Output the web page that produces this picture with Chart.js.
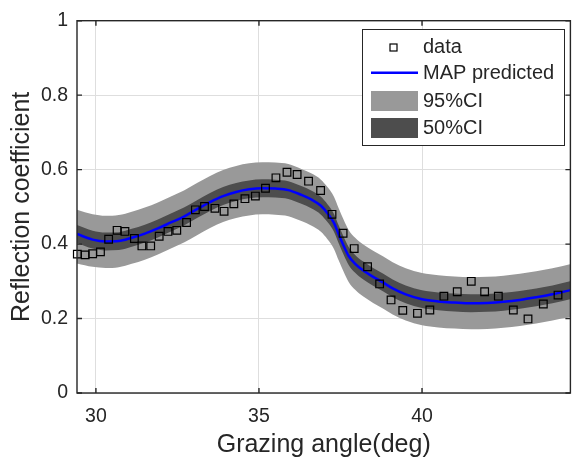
<!DOCTYPE html>
<html>
<head>
<meta charset="utf-8">
<script src="https://cdn.jsdelivr.net/npm/chart.js@4/dist/chart.umd.min.js"></script>
<style>
  html, body { margin: 0; padding: 0; background: #fff; }
  canvas { display: block; }
</style>
</head>
<body>
<canvas id="reflChart" width="577" height="466"></canvas>
<script>
// measured reflection coefficient
const dataAngle = [29.43, 29.67, 29.90, 30.14, 30.39, 30.65, 30.89, 31.18, 31.41, 31.68,
  31.94, 32.21, 32.48, 32.78, 33.05, 33.33, 33.65, 33.93, 34.23, 34.57,
  34.89, 35.20, 35.52, 35.86, 36.17, 36.52, 36.89, 37.24, 37.58, 37.92,
  38.33, 38.70, 39.05, 39.41, 39.86, 40.24, 40.67, 41.08, 41.51, 41.92,
  42.34, 42.80, 43.25, 43.72, 44.17];
const dataRefl = [0.373, 0.371, 0.374, 0.379, 0.413, 0.437, 0.434, 0.415, 0.395, 0.395,
  0.421, 0.434, 0.437, 0.458, 0.492, 0.501, 0.496, 0.488, 0.508, 0.522,
  0.529, 0.550, 0.578, 0.593, 0.587, 0.569, 0.544, 0.480, 0.429, 0.388,
  0.339, 0.293, 0.250, 0.222, 0.214, 0.223, 0.260, 0.272, 0.300, 0.272,
  0.260, 0.223, 0.199, 0.239, 0.263];

// model curve and credible intervals
const curveAngle = [29.42, 29.9, 30.3, 30.7, 31.1, 31.5, 31.9, 32.3, 32.7, 33.1,
  33.5, 33.9, 34.3, 34.7, 35.1, 35.5, 35.9, 36.3, 36.6, 36.9,
  37.1, 37.3, 37.45, 37.6, 37.75, 37.95, 38.2, 38.5, 38.8, 39.1,
  39.5, 40.0, 40.5, 41.0, 41.5, 42.0, 42.5, 43.0, 43.5, 44.0, 44.58];
const mapPred = [0.427, 0.412, 0.407, 0.408, 0.417, 0.428, 0.442, 0.458, 0.474, 0.494,
  0.513, 0.529, 0.540, 0.547, 0.550, 0.549, 0.545, 0.532, 0.520, 0.503,
  0.483, 0.457, 0.425, 0.395, 0.368, 0.347, 0.329, 0.312, 0.297, 0.281,
  0.265, 0.252, 0.246, 0.243, 0.241, 0.242, 0.245, 0.250, 0.257, 0.265, 0.277];
const upper95 = [0.492, 0.480, 0.476, 0.478, 0.487, 0.498, 0.512, 0.528, 0.544, 0.564,
  0.583, 0.599, 0.610, 0.617, 0.620, 0.619, 0.615, 0.602, 0.590, 0.573,
  0.553, 0.527, 0.495, 0.465, 0.438, 0.417, 0.399, 0.382, 0.367, 0.351,
  0.335, 0.322, 0.316, 0.313, 0.311, 0.312, 0.315, 0.320, 0.327, 0.335, 0.347];
const lower95 = [0.348, 0.339, 0.336, 0.338, 0.347, 0.358, 0.372, 0.388, 0.404, 0.424,
  0.443, 0.459, 0.470, 0.477, 0.480, 0.479, 0.475, 0.462, 0.450, 0.433,
  0.413, 0.387, 0.355, 0.325, 0.298, 0.277, 0.259, 0.242, 0.227, 0.211,
  0.195, 0.182, 0.176, 0.173, 0.171, 0.172, 0.175, 0.180, 0.187, 0.195, 0.205];
const upper50 = [0.451, 0.436, 0.431, 0.432, 0.441, 0.452, 0.466, 0.482, 0.498, 0.518,
  0.537, 0.553, 0.564, 0.571, 0.574, 0.573, 0.569, 0.556, 0.544, 0.527,
  0.507, 0.481, 0.449, 0.419, 0.392, 0.371, 0.353, 0.336, 0.321, 0.305,
  0.289, 0.276, 0.270, 0.267, 0.265, 0.266, 0.269, 0.274, 0.281, 0.289, 0.301];
const lower50 = [0.403, 0.388, 0.383, 0.384, 0.393, 0.404, 0.418, 0.434, 0.450, 0.470,
  0.489, 0.505, 0.516, 0.523, 0.526, 0.525, 0.521, 0.508, 0.496, 0.479,
  0.459, 0.433, 0.401, 0.371, 0.344, 0.323, 0.305, 0.288, 0.273, 0.257,
  0.241, 0.228, 0.222, 0.219, 0.217, 0.218, 0.221, 0.226, 0.233, 0.241, 0.253];

const xTicks = [30, 35, 40];
const yTicks = [0, 0.2, 0.4, 0.6, 0.8, 1];
const yTickLabels = ['0', '0.2', '0.4', '0.6', '0.8', '1'];

const FONT = "'Liberation Sans', Arial, Helvetica, sans-serif";
const AXIS_COLOR = '#262626';

const toPts = (xs, ys) => xs.map((x, i) => ({ x: x, y: ys[i] }));

const band = (label, ys, color, fill) => ({
  label: label,
  data: toPts(curveAngle, ys),
  borderWidth: 0,
  pointRadius: 0,
  backgroundColor: color,
  borderColor: color,
  fill: fill,
  cubicInterpolationMode: 'monotone',
});

// axes box with inward ticks, like the matlab figure
const axesBox = {
  id: 'axesBox',
  afterDatasetsDraw(chart) {
    const { ctx, chartArea: a, scales } = chart;
    ctx.save();
    ctx.strokeStyle = AXIS_COLOR;
    ctx.lineWidth = 1.4;
    ctx.strokeRect(a.left, a.top, a.right - a.left, a.bottom - a.top);
    ctx.beginPath();
    xTicks.forEach(v => {
      const px = scales.x.getPixelForValue(v);
      ctx.moveTo(px, a.bottom); ctx.lineTo(px, a.bottom - 5);
      ctx.moveTo(px, a.top); ctx.lineTo(px, a.top + 5);
    });
    yTicks.forEach(v => {
      const py = scales.y.getPixelForValue(v);
      ctx.moveTo(a.left, py); ctx.lineTo(a.left + 5, py);
      ctx.moveTo(a.right, py); ctx.lineTo(a.right - 5, py);
    });
    ctx.stroke();
    ctx.restore();
  }
};

// boxed legend in the upper right
const boxLegend = {
  id: 'boxLegend',
  afterDraw(chart) {
    const ctx = chart.ctx;
    const ds = chart.data.datasets;
    const bx = 362.5, by = 29.5, bw = 202, bh = 116;
    ctx.save();
    ctx.fillStyle = '#fff';
    ctx.fillRect(bx, by, bw, bh);
    ctx.strokeStyle = AXIS_COLOR;
    ctx.lineWidth = 1;
    ctx.strokeRect(bx, by, bw, bh);

    const rows = [47.5, 73.5, 101, 128];
    const sx0 = 371, sx1 = 418, tx = 423;
    ctx.font = '20px ' + FONT;
    ctx.textBaseline = 'middle';
    ctx.fillStyle = AXIS_COLOR;
    ctx.fillText(ds[0].label, tx, rows[0]);
    ctx.fillText(ds[1].label, tx, rows[1]);
    ctx.fillText(ds[4].label, tx, rows[2]);
    ctx.fillText(ds[2].label, tx, rows[3]);

    // data marker
    ctx.strokeStyle = '#000';
    ctx.lineWidth = 1.2;
    ctx.strokeRect(390, rows[0] - 3.5, 7, 7);
    // MAP line
    ctx.strokeStyle = ds[1].borderColor;
    ctx.lineWidth = ds[1].borderWidth;
    ctx.beginPath();
    ctx.moveTo(sx0, 72.7); ctx.lineTo(sx1, 72.7);
    ctx.stroke();
    // patches
    ctx.fillStyle = ds[4].backgroundColor;
    ctx.fillRect(sx0, 91, sx1 - sx0, 20);
    ctx.fillStyle = ds[2].backgroundColor;
    ctx.fillRect(sx0, 118, sx1 - sx0, 20);
    ctx.restore();
  }
};

new Chart(document.getElementById('reflChart'), {
  type: 'line',
  data: {
    datasets: [
      {
        label: 'data',
        data: toPts(dataAngle, dataRefl),
        showLine: false,
        pointStyle: 'rect',
        pointRadius: 5.4,
        pointBorderWidth: 1.2,
        pointBorderColor: '#000',
        pointBackgroundColor: 'rgba(0,0,0,0)',
        borderColor: '#000',
        clip: false,
      },
      {
        label: 'MAP predicted',
        data: toPts(curveAngle, mapPred),
        borderColor: '#0000ff',
        borderWidth: 2.5,
        pointRadius: 0,
        fill: false,
        cubicInterpolationMode: 'monotone',
      },
      band('50%CI', upper50, '#4d4d4d', '+1'),
      band('50%CI lower', lower50, '#4d4d4d', false),
      band('95%CI', upper95, '#999999', '+1'),
      band('95%CI lower', lower95, '#999999', false),
    ]
  },
  options: {
    responsive: false,
    animation: false,
    devicePixelRatio: 1,
    layout: { padding: { top: 15, right: 1, left: 0, bottom: 0 } },
    plugins: {
      legend: { display: false },
      tooltip: { enabled: false },
    },
    scales: {
      x: {
        type: 'linear',
        min: 29.42,
        max: 44.55,
        afterBuildTicks: s => { s.ticks = xTicks.map(v => ({ value: v })); },
        afterFit: s => { s.height = 73; },
        grid: { color: '#dedede', lineWidth: 1, drawTicks: false, tickLength: 0 },
        border: { display: false },
        ticks: {
          padding: 12,
          color: AXIS_COLOR,
          font: { family: FONT, size: 19.5 },
          maxRotation: 0,
        },
        title: {
          display: true,
          text: 'Grazing angle(deg)',
          color: AXIS_COLOR,
          font: { family: FONT, size: 25 },
          padding: { top: 0, bottom: 6 },
        },
      },
      y: {
        type: 'linear',
        min: 0,
        max: 1,
        afterBuildTicks: s => { s.ticks = yTicks.map(v => ({ value: v })); },
        afterFit: s => { s.width = 77; },
        grid: { color: '#dedede', lineWidth: 1, drawTicks: false, tickLength: 0 },
        border: { display: false },
        ticks: {
          padding: 9,
          color: AXIS_COLOR,
          font: { family: FONT, size: 19.5 },
          callback: (v, i) => yTickLabels[i],
        },
        title: {
          display: true,
          text: 'Reflection coefficient',
          color: AXIS_COLOR,
          font: { family: FONT, size: 25 },
          padding: { top: 7, bottom: 0 },
        },
      },
    },
  },
  plugins: [axesBox, boxLegend],
});
</script>
</body>
</html>
